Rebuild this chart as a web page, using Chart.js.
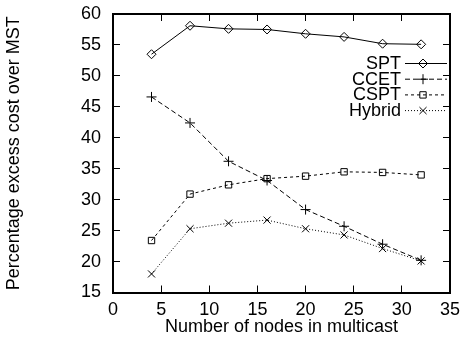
<!DOCTYPE html>
<html>
<head>
<meta charset="utf-8">
<script src="https://cdn.jsdelivr.net/npm/chart.js@4.4.1/dist/chart.umd.min.js"></script>
<style>
  html, body { margin: 0; padding: 0; background: #fff; }
  #wrap { width: 460px; height: 341px; }
</style>
</head>
<body>
<div id="wrap"><canvas id="chart"></canvas></div>
<script>
// data
var nodes = [4, 8, 12, 16, 20, 24, 28, 32];
var spt = [53.5, 58.1, 57.6, 57.5, 56.8, 56.3, 55.2, 55.1];
var ccet = [46.6, 42.4, 36.2, 33.1, 28.4, 25.7, 22.8, 20.2];
var cspt = [23.4, 30.9, 32.4, 33.4, 33.8, 34.5, 34.4, 34.0];
var hybrid = [18.0, 25.3, 26.2, 26.7, 25.3, 24.3, 22.1, 20.1];

var xTicks = [0, 5, 10, 15, 20, 25, 30, 35];
var yTicks = [15, 20, 25, 30, 35, 40, 45, 50, 55, 60];

var FONT = "'Liberation Sans', Arial, sans-serif";

function pts(ys) {
  return nodes.map(function (x, i) { return { x: x, y: ys[i] }; });
}

function series(label, ys, style, dash, radius) {
  return {
    label: label,
    data: pts(ys),
    xAxisID: "x",
    yAxisID: "y",
    borderColor: "#000",
    backgroundColor: "rgba(0,0,0,0)",
    borderWidth: 1,
    borderDash: dash,
    pointStyle: style,
    pointRadius: radius,
    pointBorderColor: "#000",
    pointBorderWidth: 1,
    pointBackgroundColor: "rgba(0,0,0,0)",
    tension: 0
  };
}

// gnuplot style: frame on all sides, ticks pointing inward
var inGrid = { display: true, drawOnChartArea: false, drawTicks: true, tickLength: -7, color: "#000", lineWidth: 1 };
var frameBorder = { display: true, color: "#000", width: 2 };

function setXTicks(s) { s.ticks = xTicks.map(function (v) { return { value: v }; }); }
function setYTicks(s) { s.ticks = yTicks.map(function (v) { return { value: v }; }); }
function noPad(s) { s.paddingTop = 0; s.paddingBottom = 0; s.paddingLeft = 0; s.paddingRight = 0; }

// key drawn like gnuplot: right-aligned text, then line sample with marker
var keyPlugin = {
  id: "key",
  afterDraw: function (chart) {
    var ctx = chart.ctx;
    ctx.save();
    ctx.font = "18px " + FONT;
    ctx.textAlign = "right";
    ctx.textBaseline = "middle";
    ctx.strokeStyle = "#000";
    ctx.lineWidth = 1;
    chart.data.datasets.forEach(function (ds, i) {
      var y = 63 + i * 15.7;
      ctx.fillStyle = "#000";
      ctx.fillText(ds.label, 401, y + 1);
      ctx.setLineDash(ds.borderDash || []);
      ctx.beginPath();
      ctx.moveTo(405, y + 0.5); ctx.lineTo(447, y + 0.5);
      ctx.stroke();
      ctx.setLineDash([]);
      ctx.fillStyle = "rgba(0,0,0,0)";
      Chart.helpers.drawPoint(ctx, {
        pointStyle: ds.pointStyle, radius: ds.pointRadius, borderWidth: 1
      }, 423, y + 0.5);
    });
    ctx.restore();
  }
};

var chart = new Chart(document.getElementById("chart").getContext("2d"), {
  type: "line",
  data: {
    datasets: [
      series("SPT", spt, "rectRot", [], 4.5),
      series("CCET", ccet, "cross", [5, 3], 5),
      series("CSPT", cspt, "rect", [3, 3], 4.5),
      series("Hybrid", hybrid, "crossRot", [1, 2], 5)
    ]
  },
  options: {
    responsive: true,
    maintainAspectRatio: false,
    animation: false,
    layout: { padding: { left: 0, top: 14, right: 10, bottom: 0 } },
    plugins: {
      legend: { display: false },
      tooltip: { enabled: false }
    },
    scales: {
      x: {
        type: "linear",
        position: "bottom",
        min: 0, max: 35,
        afterBuildTicks: setXTicks,
        afterFit: function (s) { s.height = 48.5; noPad(s); },
        grid: inGrid,
        border: frameBorder,
        ticks: { color: "#000", font: { family: FONT, size: 18 }, padding: 14, maxRotation: 0 },
        title: { display: true, text: "Number of nodes in multicast", color: "#000", font: { family: FONT, size: 18 }, padding: { top: 0, bottom: 3 } }
      },
      x2: {
        type: "linear",
        position: "top",
        min: 0, max: 35,
        afterBuildTicks: setXTicks,
        afterFit: function (s) { s.height = 0; noPad(s); },
        grid: inGrid,
        border: frameBorder,
        ticks: { display: false }
      },
      y: {
        type: "linear",
        position: "left",
        min: 15, max: 60,
        afterBuildTicks: setYTicks,
        afterFit: function (s) { s.width = 113; noPad(s); },
        grid: inGrid,
        border: frameBorder,
        ticks: { color: "#000", font: { family: FONT, size: 18 }, padding: 19 },
        title: { display: true, text: "Percentage excess cost over MST", color: "#000", font: { family: FONT, size: 18 }, padding: { top: 3, bottom: 0 } }
      },
      y2: {
        type: "linear",
        position: "right",
        min: 15, max: 60,
        afterBuildTicks: setYTicks,
        afterFit: function (s) { s.width = 0; noPad(s); },
        grid: inGrid,
        border: frameBorder,
        ticks: { display: false }
      }
    }
  },
  plugins: [keyPlugin]
});
</script>
</body>
</html>
